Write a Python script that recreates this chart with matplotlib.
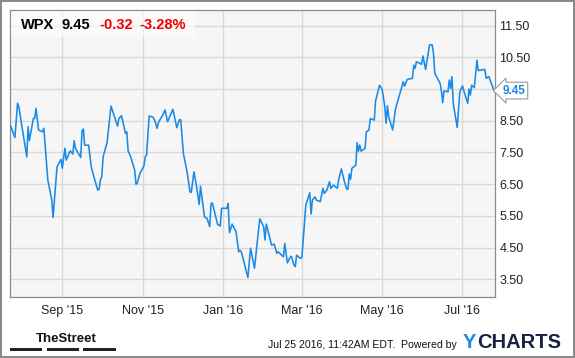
import pandas as pd
import matplotlib
matplotlib.use("Agg")
import matplotlib.pyplot as plt
import matplotlib.dates as mdates
from matplotlib.patches import Rectangle

plt.rcParams['font.family'] = ['Liberation Sans', 'DejaVu Sans']

# WPX daily close
dates = [
    "2015-07-24", "2015-07-27", "2015-07-29", "2015-07-30", "2015-08-02", "2015-08-05", "2015-08-06",
    "2015-08-07", "2015-08-10", "2015-08-11", "2015-08-12", "2015-08-14", "2015-08-17", "2015-08-18",
    "2015-08-21", "2015-08-24", "2015-08-25", "2015-08-28", "2015-08-31",
    "2015-09-01", "2015-09-03", "2015-09-04", "2015-09-07", "2015-09-09", "2015-09-10", "2015-09-11",
    "2015-09-15", "2015-09-16", "2015-09-17", "2015-09-18", "2015-09-21", "2015-09-23", "2015-09-25",
    "2015-09-28", "2015-09-29", "2015-09-30",
    "2015-10-01", "2015-10-02", "2015-10-05", "2015-10-08", "2015-10-13", "2015-10-14", "2015-10-16",
    "2015-10-19", "2015-10-20", "2015-10-21", "2015-10-23", "2015-10-26", "2015-10-27", "2015-10-28",
    "2015-10-30",
    "2015-11-02", "2015-11-03", "2015-11-04", "2015-11-06", "2015-11-09", "2015-11-10", "2015-11-12",
    "2015-11-13", "2015-11-15", "2015-11-16", "2015-11-18", "2015-11-20", "2015-11-21", "2015-11-24",
    "2015-11-27", "2015-11-29", "2015-11-30",
    "2015-12-02", "2015-12-05", "2015-12-07", "2015-12-08", "2015-12-10", "2015-12-12", "2015-12-14",
    "2015-12-15", "2015-12-18", "2015-12-20", "2015-12-22", "2015-12-23", "2015-12-24", "2015-12-28",
    "2015-12-30", "2015-12-31",
    "2016-01-04", "2016-01-05", "2016-01-06", "2016-01-08", "2016-01-11", "2016-01-13", "2016-01-14",
    "2016-01-15", "2016-01-20", "2016-01-22", "2016-01-25", "2016-01-29",
    "2016-02-01", "2016-02-02", "2016-02-03", "2016-02-06", "2016-02-07", "2016-02-09", "2016-02-11",
    "2016-02-12", "2016-02-16", "2016-02-17", "2016-02-19", "2016-02-21", "2016-02-22", "2016-02-24",
    "2016-02-25", "2016-02-26", "2016-02-29",
    "2016-03-01", "2016-03-04", "2016-03-07", "2016-03-08", "2016-03-09", "2016-03-11", "2016-03-12",
    "2016-03-15", "2016-03-17", "2016-03-18", "2016-03-20", "2016-03-22", "2016-03-23", "2016-03-25",
    "2016-03-28", "2016-03-29", "2016-03-31",
    "2016-04-02", "2016-04-04", "2016-04-05", "2016-04-06", "2016-04-07", "2016-04-08", "2016-04-11",
    "2016-04-12", "2016-04-13", "2016-04-14", "2016-04-15", "2016-04-18", "2016-04-19", "2016-04-21",
    "2016-04-22", "2016-04-25", "2016-04-26", "2016-04-29",
    "2016-05-01", "2016-05-03", "2016-05-04", "2016-05-05", "2016-05-06", "2016-05-09", "2016-05-11",
    "2016-05-13", "2016-05-16", "2016-05-17", "2016-05-18", "2016-05-20", "2016-05-24", "2016-05-25",
    "2016-05-26", "2016-05-27", "2016-05-31",
    "2016-06-01", "2016-06-03", "2016-06-06", "2016-06-08", "2016-06-09", "2016-06-10", "2016-06-14",
    "2016-06-15", "2016-06-16", "2016-06-17", "2016-06-20", "2016-06-21", "2016-06-22", "2016-06-23",
    "2016-06-24", "2016-06-27", "2016-06-29",
    "2016-07-01", "2016-07-03", "2016-07-05", "2016-07-06", "2016-07-07", "2016-07-08", "2016-07-10",
    "2016-07-12", "2016-07-13", "2016-07-18", "2016-07-19", "2016-07-21", "2016-07-25",
]
prices = [
    8.31, 7.97, 9.05, 8.94, 8.15, 7.36, 8.31, 7.87, 8.57, 8.57, 8.89, 8.21, 8.15, 8.26, 6.63, 6.00, 5.45, 7.05, 7.28,
    7.00, 7.63, 7.26, 7.55, 7.45, 7.87, 7.63, 7.34, 8.18, 8.24, 7.73, 7.73, 7.05, 6.73, 6.31, 6.34, 6.65,
    6.73, 7.36, 7.81, 8.96, 8.33, 8.57, 8.66, 8.10, 8.15, 7.55, 7.36, 6.94, 6.50, 6.54, 6.84,
    7.07, 7.36, 7.42, 8.65, 8.61, 8.54, 8.26, 8.44, 8.59, 8.65, 8.84, 8.47, 8.57, 8.86, 8.28, 8.54, 8.52,
    7.47, 6.84, 6.26, 6.24, 6.89, 6.42, 5.86, 6.44, 5.47, 5.42, 5.16, 5.89, 5.91, 5.23, 5.18, 5.74,
    5.74, 5.89, 4.97, 5.24, 5.00, 4.37, 4.42, 4.37, 3.56, 4.48, 3.85, 5.41,
    5.16, 4.74, 5.24, 4.74, 4.58, 4.61, 4.32, 4.37, 4.21, 4.63, 4.02, 4.19, 4.23, 3.95, 3.90, 4.26, 4.16,
    4.19, 5.84, 6.23, 5.56, 6.00, 6.10, 6.00, 5.95, 6.37, 6.21, 6.31, 6.58, 6.37, 6.47, 6.37, 6.65, 6.98,
    6.63, 6.35, 6.34, 6.82, 6.65, 7.00, 7.10, 7.81, 7.54, 7.73, 7.54, 7.63, 8.15, 8.21, 8.57, 8.52, 9.12, 9.62,
    9.49, 8.94, 8.42, 8.97, 8.62, 8.21, 8.84, 9.15, 9.57, 9.73, 9.59, 9.80, 9.84, 10.25, 10.15, 10.36, 10.28,
    10.54, 10.12, 10.89, 10.89, 10.62, 9.99, 9.68, 9.44, 9.07, 9.44, 9.41, 9.78, 9.52, 9.89, 9.05, 8.29, 9.41,
    9.60, 9.31, 9.05, 9.50, 9.31, 9.62, 9.54, 10.41, 10.08, 10.12, 9.84, 9.89, 9.45,
]

ticker = "WPX"
change = "-0.32"
change_pct = "-3.28%"
y_ticks = [3.5, 4.5, 5.5, 6.5, 7.5, 8.5, 9.5, 10.5, 11.5]
hidden_tick = 9.5  # covered by the last price box
x_ticks = ["2015-09-01", "2015-11-01", "2016-01-01", "2016-03-01", "2016-05-01", "2016-07-01"]
stamp = "Jul 25 2016, 11:42AM EDT.  Powered by"

W, H = 575, 358
blue = "#1a8ae6"

df = pd.DataFrame({"date": pd.to_datetime(dates), "price": prices})

fig = plt.figure(figsize=(W / 100, H / 100), dpi=100)
fig.patch.set_facecolor("white")
ax = fig.add_axes([10.3 / W, 1 - 296.5 / H, 484.4 / W, 286.5 / H])
ax.set_facecolor("#f6f6f6")

ax.plot(df["date"], df["price"], color=blue, lw=1.15, zorder=3)

ax.set_xlim(pd.Timestamp("2015-07-23 12:00"), pd.Timestamp("2016-07-25 12:00"))
ax.set_ylim(2.96, 11.99)
ax.set_yticks(y_ticks)
ax.set_yticklabels(["" if v == hidden_tick else f"{v:.2f}" for v in y_ticks])
ax.yaxis.tick_right()
ax.set_xticks(pd.to_datetime(x_ticks))
ax.xaxis.set_major_formatter(mdates.DateFormatter("%b '%y"))
ax.tick_params(length=0, labelsize=9, colors="#222222")
ax.tick_params(axis="y", pad=3.5)
ax.tick_params(axis="x", pad=6)
ax.grid(True, color="#d9d9d9", lw=1.0)
ax.set_axisbelow(True)
for sp in ax.spines.values():
    sp.set_color("#8c8c8c")
    sp.set_linewidth(0.9)

# header with ticker and last change
fig.add_artist(Rectangle((10.5 / W, 1 - 36.7 / H), 184.5 / W, 26 / H, transform=fig.transFigure,
                         facecolor="white", alpha=0.55, edgecolor="none", zorder=2))
base = 1 - 29 / H
fig.text(21 / W, base, ticker, fontsize=10.5, fontweight="bold", color="black", va="baseline", zorder=3)
fig.text(62 / W, base, f"{prices[-1]:.2f}", fontsize=10.5, fontweight="bold", color="black", va="baseline", zorder=3)
fig.text(99 / W, base, change, fontsize=10.5, fontweight="bold", color="#ee0000", va="baseline", zorder=3)
fig.text(139 / W, base, change_pct, fontsize=10.5, fontweight="bold", color="#ee0000", va="baseline", zorder=3)

# last price marker
ax.annotate(f"{prices[-1]:.2f}", xy=(1.0, prices[-1]), xycoords=("axes fraction", "data"),
            xytext=(5.6, 0), textcoords="offset points", ha="left", va="center",
            fontsize=8.5, fontweight="bold", color=blue, annotation_clip=False, zorder=5,
            bbox=dict(boxstyle="larrow,pad=0.2", fc="white", ec="#9a9a9a", lw=0.8))

# footer
fig.text(36 / W, 1 - 341.5 / H, "TheStreet", fontsize=9.5, fontweight="bold", color="#111111",
         va="baseline")
for x0, x1 in [(10, 42.3), (46.7, 79), (83.3, 115.7)]:
    fig.add_artist(Rectangle((x0 / W, 1 - 350.7 / H), (x1 - x0) / W, 3.2 / H, transform=fig.transFigure,
                             facecolor="#222222", edgecolor="none"))
fig.text(267.5 / W, 1 - 347.7 / H, stamp, fontsize=7.6, color="#111111", va="baseline")
fig.text(462.5 / W, 1 - 347.7 / H, "Y", fontsize=14.5, fontweight="bold", color="#1d8ce0", va="baseline")
fig.text(477 / W, 1 - 347.7 / H, "CHARTS", fontsize=14.5, fontweight="bold", color="#15233f", va="baseline")

# outer frame
fig.add_artist(Rectangle((0, 0), 1, 1, transform=fig.transFigure, fill=False,
                         edgecolor="#8a8a8a", lw=2.9))

fig.savefig("out.png", dpi=100)
